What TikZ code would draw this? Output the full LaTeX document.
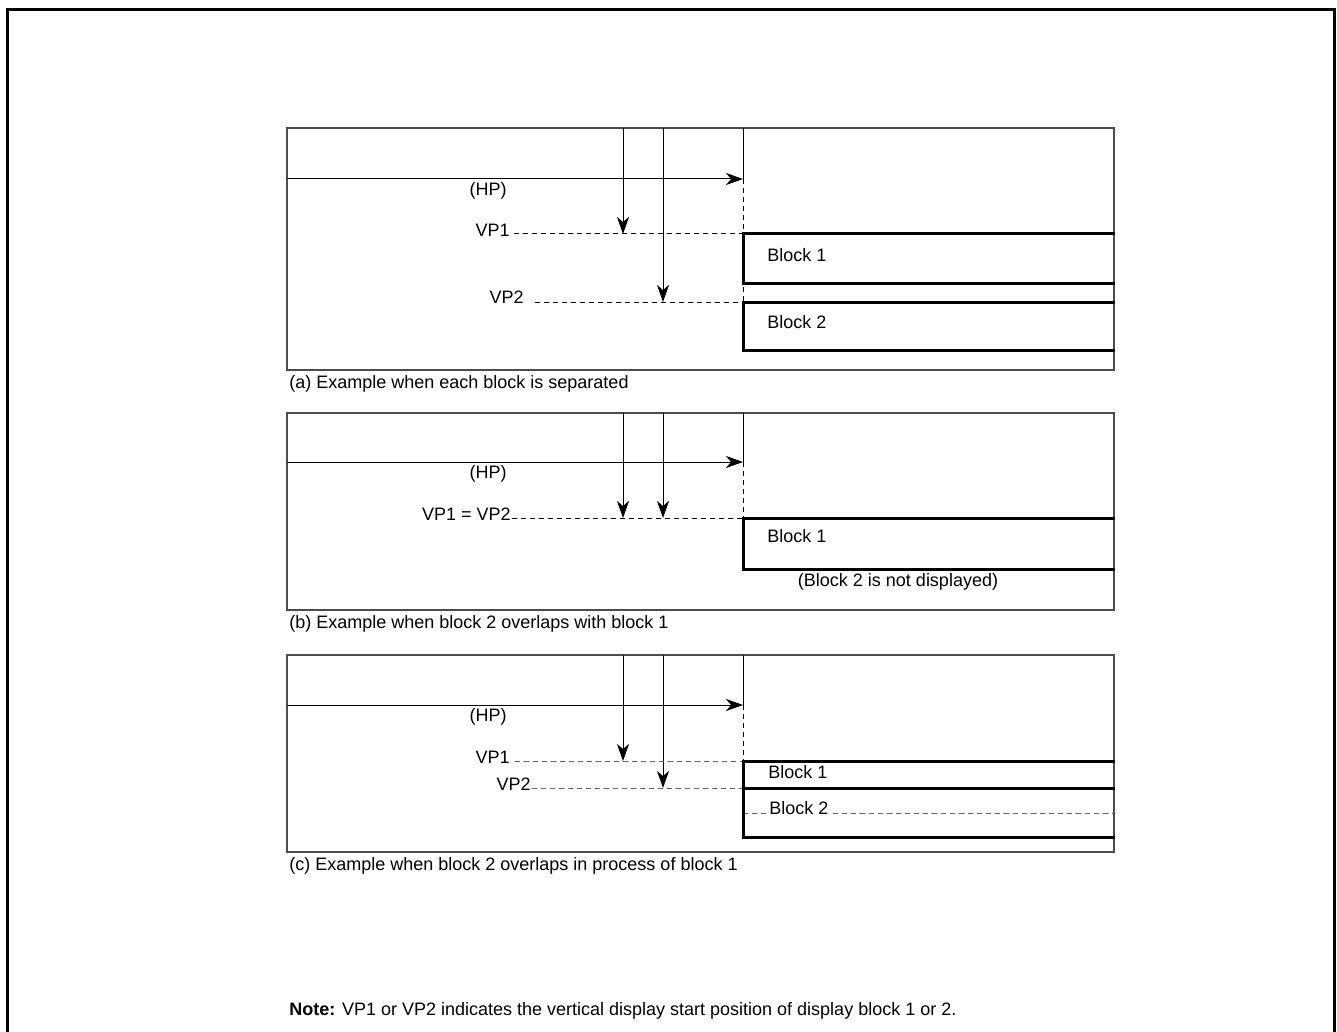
\documentclass[tikz,border=0pt]{standalone}
\usepackage{fontspec}
\setmainfont{Liberation Sans}
\usetikzlibrary{arrows.meta, positioning, calc}

\begin{document}
\begin{tikzpicture}[x=0.5pt, y=-0.5pt, font=\fontsize{9}{11}\selectfont]
        \tikzstyle{panel} = [draw=black!70, line width=0.6pt]
        \tikzstyle{posline} = [line width=0.5pt]
        \tikzstyle{arrow} = [line width=0.5pt, -{Stealth[length=8.5pt, width=6pt, inset=2.5pt]}]
        \tikzstyle{guide} = [line width=0.5pt, dash pattern=on 2.5pt off 2pt]
        \tikzstyle{block} = [line width=1.5pt]
        \tikzstyle{txt} = [inner sep=0pt]

        \useasboundingbox (0,0) rectangle (1337,1032);
        \draw[line width=1.5pt] (7,1032) -- (7,10) -- (1334,10) -- (1334,1032);

        % (a) blocks separated
        \draw[panel] (287,128) rectangle (1114,370);
        \coordinate (a-hp0) at (287,179);
        \coordinate (a-hp) at (743,179);
        \coordinate (a-top) at (743,128);
        \coordinate (a-v1top) at (623,128);
        \coordinate (a-v2top) at (663,128);
        \coordinate (a-v1) at (623,234);
        \coordinate (a-v2) at (663,302);
        \coordinate (a-b1tl) at (743,234);
        \coordinate (a-b2tl) at (743,302);
        \node (a-hplbl) [txt] at (488,191) {(HP)};
        \node (a-vp1) [txt, anchor=east] at (510,230) {VP1};
        \node (a-vp2) [txt, anchor=east] at (524,297) {VP2};
        \node (a-blk1) [txt, anchor=west] at (767,255) {Block 1};
        \node (a-blk2) [txt, anchor=west] at (767,322) {Block 2};
        \node (a-cap) [txt, anchor=west] at (289,384) {(a) Example when each block is separated};
        \draw [arrow] (a-hp0) -- (a-hp);
        \draw [posline] (a-top) -- (a-hp);
        \draw [guide] (a-hp) -- (a-b2tl);
        \draw [arrow] (a-v1top) -- (a-v1);
        \draw [arrow] (a-v2top) -- (a-v2);
        \draw [guide] (a-vp1.east |- a-b1tl) ++(4,0) -- (a-b1tl);
        \draw [guide] (a-vp2.east |- a-b2tl) ++(11,0) -- (a-b2tl);
        \draw [block] (1115,234) -- (a-b1tl) -- (743,283) -- (1115,283);
        \draw [block] (1115,302) -- (a-b2tl) -- (743,350) -- (1115,350);

        % (b) block 2 overlaps block 1
        \draw[panel] (287,413) rectangle (1114,610);
        \coordinate (b-hp0) at (287,462);
        \coordinate (b-hp) at (743,462);
        \coordinate (b-top) at (743,413);
        \coordinate (b-v1top) at (623,413);
        \coordinate (b-v2top) at (663,413);
        \coordinate (b-v1) at (623,518);
        \coordinate (b-v2) at (663,518);
        \coordinate (b-b1tl) at (743,518);
        \node (b-hplbl) [txt] at (488,474) {(HP)};
        \node (b-vp) [txt, anchor=east] at (511,514) {VP1 = VP2};
        \node (b-blk1) [txt, anchor=west] at (767,536) {Block 1};
        \node (b-none) [txt] at (898,582) {(Block 2 is not displayed)};
        \node (b-cap) [txt, anchor=west] at (289,624) {(b) Example when block 2 overlaps with block 1};
        \draw [arrow] (b-hp0) -- (b-hp);
        \draw [posline] (b-top) -- (b-hp);
        \draw [guide] (b-hp) -- (b-b1tl);
        \draw [arrow] (b-v1top) -- (b-v1);
        \draw [arrow] (b-v2top) -- (b-v2);
        \draw [guide] (b-vp.east |- b-b1tl) ++(1,0) -- (b-b1tl);
        \draw [block] (1115,518) -- (b-b1tl) -- (743,569) -- (1115,569);

        % (c) block 2 overlaps in process of block 1
        \draw[panel] (287,655) rectangle (1114,852);
        \coordinate (c-hp0) at (287,705);
        \coordinate (c-hp) at (743,705);
        \coordinate (c-top) at (743,655);
        \coordinate (c-v1top) at (623,655);
        \coordinate (c-v2top) at (663,655);
        \coordinate (c-v1) at (623,761);
        \coordinate (c-v2) at (663,788);
        \coordinate (c-b1tl) at (743,761);
        \coordinate (c-b2tl) at (743,788);
        \node (c-hplbl) [txt] at (488,717) {(HP)};
        \node (c-vp1) [txt, anchor=east] at (510,757) {VP1};
        \node (c-vp2) [txt, anchor=east] at (531,784) {VP2};
        \node (c-blk1) [txt, anchor=west] at (768,772) {Block 1};
        \node (c-cap) [txt, anchor=west] at (289,866) {(c) Example when block 2 overlaps in process of block 1};
        \draw [guide, draw=black!60] (743,813) -- (1114,813);
        \node (c-blk2) [txt, anchor=west, fill=white, inner xsep=1pt] at (767,808) {Block 2};
        \draw [arrow] (c-hp0) -- (c-hp);
        \draw [posline] (c-top) -- (c-hp);
        \draw [guide] (c-hp) -- (c-b1tl);
        \draw [arrow] (c-v1top) -- (c-v1);
        \draw [arrow] (c-v2top) -- (c-v2);
        \draw [guide, draw=black!60] (c-vp1.east |- c-b1tl) ++(5,0) -- (c-b1tl);
        \draw [guide, draw=black!60] (c-vp2.east |- c-b2tl) ++(1,0) -- (c-b2tl);
        \draw [block] (1115,761) -- (c-b1tl) -- (743,837) -- (1115,837);
        \draw [block] (c-b2tl) -- (1115,788);

        % note
        \node (note) [txt, anchor=west] at (289,1011) {\textbf{Note:} VP1 or VP2 indicates the vertical display start position of display block 1 or 2.};
\end{tikzpicture}
\end{document}
